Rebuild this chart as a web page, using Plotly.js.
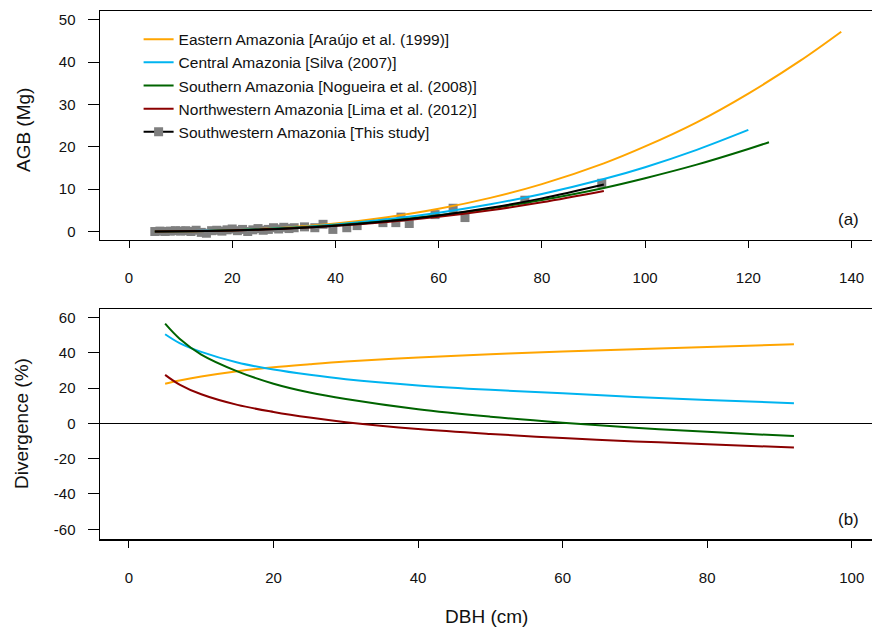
<!DOCTYPE html>
<html><head><meta charset="utf-8">
<script src="https://cdn.plot.ly/plotly-3.0.1.min.js"></script>
<style>body{margin:0;background:#fff}#chart{width:872px;height:632px}</style>
</head><body><div id="chart"></div>
<script>
// ---- Panel (a): AGB vs DBH ----
const seriesNames = [
  "Eastern Amazonia [Araújo et al. (1999)]",
  "Central Amazonia [Silva (2007)]",
  "Southern Amazonia [Nogueira et al. (2008)]",
  "Northwestern Amazonia [Lima et al. (2012)]",
  "Southwestern Amazonia [This study]"
];
const seriesColors = ["#FFA500", "#00B4F0", "#006400", "#8B0000", "#000000"];

const dbhEastern = [5,10,15,20,25,30,40,50,60,70,80,92,100,110,120,130,138];
const agbEastern = [0.009,0.054,0.154,0.323,0.570,0.91,1.89,3.37,5.36,7.95,11.2,16.1,20.1,25.8,32.6,40.3,47.2];

const dbhCentral = [5,10,15,20,25,30,40,50,60,70,80,92,100,110,120];
const agbCentral = [0.011,0.060,0.160,0.320,0.544,0.84,1.68,2.88,4.46,6.44,8.87,12.4,15.2,19.3,24.0];

const dbhSouthern = [5,10,15,20,25,30,40,50,60,70,80,92,100,110,120,124];
const agbSouthern = [0.012,0.060,0.154,0.300,0.502,0.767,1.49,2.51,3.83,5.46,7.45,10.3,12.6,15.8,19.5,21.1];

const dbhNorthwestern = [5,10,15,20,25,30,40,50,60,70,80,92];
const agbNorthwestern = [0.010,0.050,0.131,0.261,0.441,0.679,1.34,2.27,3.49,5.03,6.91,9.58];

const dbhThisStudy = [5,10,15,20,25,30,40,50,60,70,80,92];
const agbThisStudy = [0.008,0.043,0.119,0.245,0.427,0.674,1.38,2.42,3.81,5.60,7.83,11.1];

// observed trees (grey squares)
const obsDbh = [5,6,7,8,9,10,11,12,13,14,15,16,17,18,19,20,21,22,23,24,25,26,27,28,29,30,31,32,34,36,37.6,39.5,42.2,44.2,49.2,51.7,52.7,54.3,59.3,62.8,65.1,76.7,91.6];
const obsAgb = [0.0,0.1,0.0,0.1,0.2,0.1,0.2,0.0,0.3,-0.2,-0.4,0.2,0.3,0.1,0.4,0.6,0.2,0.5,0.0,0.4,0.7,0.3,0.5,0.9,0.6,1.0,0.7,0.9,1.1,0.9,1.7,0.5,0.9,1.4,2.1,2.1,3.4,1.9,4.0,5.5,3.3,7.4,11.4];

// ---- Panel (b): divergence vs DBH ----
const divDbh = [5,7,10,15,20,25,30,40,50,60,70,80,92];
const divEastern = [22.5,24.3,26.5,29.5,31.8,33.5,35.0,37.3,39.2,40.7,42.0,43.3,44.8];
const divCentral = [50.5,45.5,40.5,34.5,30.5,27.5,25.0,21.5,19.0,17.0,15.0,13.3,11.4];
const divSouthern = [56.5,48.0,39.0,29.5,22.5,17.5,13.8,8.0,3.8,0.4,-2.5,-4.8,-7.2];
const divNorthwestern = [27.5,22.0,16.5,10.5,6.5,3.3,0.7,-3.2,-6.0,-8.3,-10.2,-11.8,-13.7];

const xTicksA = [0,20,40,60,80,100,120,140];
const yTicksA = [0,10,20,30,40,50];
const xTicksB = [0,20,40,60,80,100];
const yTicksB = [-60,-40,-20,0,20,40,60];
const yTickTextB = ["-60","-40","-20","0","20","40","60"];

// ---- build traces ----
const FONT = "Arial, 'Liberation Sans', sans-serif";
// observed points, isolated by nulls so the legend shows line + square but no connecting line is drawn
const obsX = [], obsY = [];
obsDbh.forEach((d, i) => { obsX.push(d, null); obsY.push(obsAgb[i], null); });

const traces = [];
traces.push({x: obsX, y: obsY, xaxis: "x", yaxis: "y", type: "scatter", mode: "lines+markers",
  connectgaps: false, name: seriesNames[4], legendrank: 5,
  line: {color: seriesColors[4], width: 2},
  marker: {symbol: "square", size: 9, color: "#7f7f7f"}});

const topSets = [[dbhEastern, agbEastern], [dbhCentral, agbCentral], [dbhSouthern, agbSouthern], [dbhNorthwestern, agbNorthwestern]];
topSets.forEach((s, i) => {
  traces.push({x: s[0], y: s[1], xaxis: "x", yaxis: "y", type: "scatter", mode: "lines",
    name: seriesNames[i], legendrank: i + 1,
    line: {color: seriesColors[i], width: 2, shape: "spline"}});
});
traces.push({x: dbhThisStudy, y: agbThisStudy, xaxis: "x", yaxis: "y", type: "scatter", mode: "lines",
  showlegend: false, line: {color: seriesColors[4], width: 2, shape: "spline"}});

const botSets = [divEastern, divCentral, divSouthern, divNorthwestern];
botSets.forEach((s, i) => {
  traces.push({x: divDbh, y: s, xaxis: "x2", yaxis: "y2", type: "scatter", mode: "lines",
    showlegend: false, line: {color: seriesColors[i], width: 2, shape: "spline"}});
});

const axisCommon = {showgrid: false, showline: true, linecolor: "#000", linewidth: 1.5,
  ticks: "outside", tickcolor: "#000", tickwidth: 1, tickfont: {family: FONT, size: 15, color: "#111"}};

const layout = {
  width: 872, height: 632,
  margin: {l: 100, r: 0, t: 11, b: 93},
  paper_bgcolor: "#fff", plot_bgcolor: "#fff",
  font: {family: FONT, color: "#111"},
  showlegend: true,
  legend: {x: 0.05, y: 0.978, xanchor: "left", yanchor: "top", bgcolor: "rgba(0,0,0,0)",
    font: {family: FONT, size: 15.5, color: "#111"}, tracegroupgap: 0, itemwidth: 30},
  xaxis: Object.assign({}, axisCommon, {anchor: "y", domain: [0, 1], range: [-5.62, 143.96],
    tickmode: "array", tickvals: xTicksA, ticklen: 7, mirror: true, zeroline: false, ticklabelstandoff: 17}),
  yaxis: Object.assign({}, axisCommon, {anchor: "x", domain: [0.5663, 1], range: [-2, 52.1],
    tickmode: "array", tickvals: yTicksA, ticklen: 11, zeroline: false, ticklabelstandoff: 9}),
  xaxis2: Object.assign({}, axisCommon, {anchor: "y2", domain: [0, 1], range: [-4.01, 102.8],
    tickmode: "array", tickvals: xTicksB, ticklen: 7, mirror: true, zeroline: false, ticklabelstandoff: 17}),
  yaxis2: Object.assign({}, axisCommon, {anchor: "x2", domain: [0, 0.4356], range: [-65.5, 64.8],
    tickmode: "array", tickvals: yTicksB, ticktext: yTickTextB, ticklen: 11,
    zeroline: true, zerolinecolor: "#000", zerolinewidth: 1.5, ticklabelstandoff: 9}),
  annotations: [
    {text: "AGB (Mg)", xref: "paper", yref: "paper", x: -0.0997, y: 0.7746, textangle: -90,
      showarrow: false, xanchor: "center", yanchor: "middle", font: {family: FONT, size: 19, color: "#111"}},
    {text: "Divergence (%)", xref: "paper", yref: "paper", x: -0.1023, y: 0.2178, textangle: -90,
      showarrow: false, xanchor: "center", yanchor: "middle", font: {family: FONT, size: 19, color: "#111"}},
    {text: "DBH (cm)", xref: "paper", yref: "paper", x: 0.5, y: -0.1477,
      showarrow: false, xanchor: "center", yanchor: "middle", font: {family: FONT, size: 19, color: "#111"}},
    {text: "(a)", xref: "paper", yref: "paper", x: 0.969, y: 0.606,
      showarrow: false, xanchor: "center", yanchor: "middle", font: {family: FONT, size: 17, color: "#111"}},
    {text: "(b)", xref: "paper", yref: "paper", x: 0.969, y: 0.036,
      showarrow: false, xanchor: "center", yanchor: "middle", font: {family: FONT, size: 17, color: "#111"}}
  ]
};

Plotly.newPlot("chart", traces, layout, {displayModeBar: false, staticPlot: true});
</script>
</body></html>
